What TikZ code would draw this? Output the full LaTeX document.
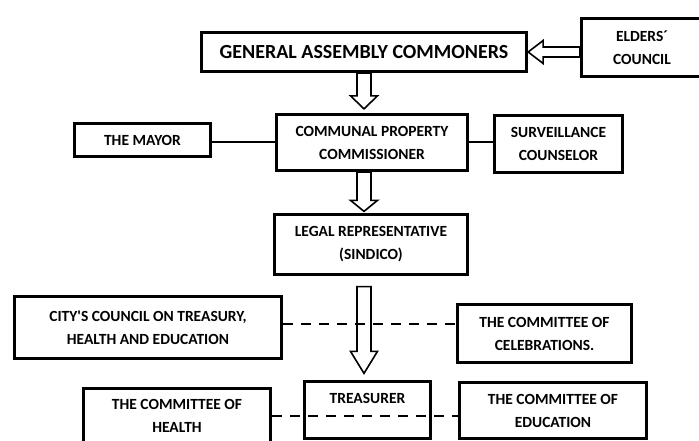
\documentclass[tikz,border=0pt]{standalone}
\usepackage{fontspec}
\setmainfont{Carlito}
\usetikzlibrary{calc}
\def\blockdown(#1)(#2)(#3){\draw[blockarrow] let \p1=(#1), \p2=(#2) in (\x2-7pt,\y1) -- (\x2+7pt,\y1) -- (\x2+7pt,\y2+#3pt) -- (\x2+13.5pt,\y2+#3pt) -- (\x2,\y2) -- (\x2-13.5pt,\y2+#3pt) -- (\x2-7pt,\y2+#3pt) -- cycle;}
\def\blockleft(#1)(#2)(#3){\draw[blockarrow] let \p1=(#1), \p2=(#2) in (\x1,\y2+5pt) -- (\x1,\y2-5pt) -- (\x2+#3pt,\y2-5pt) -- (\x2+#3pt,\y2-11.5pt) -- (\x2,\y2) -- (\x2+#3pt,\y2+11.5pt) -- (\x2+#3pt,\y2+5pt) -- cycle;}

\begin{document}
\begin{tikzpicture}[x=1pt,y=-1pt,
		box/.style={draw, line width=3.3pt, align=center, inner sep=0pt, font=\bfseries\fontsize{15.5}{23}\selectfont},
		blockarrow/.style={draw, fill=white, line width=1.6pt, line join=miter},
		link/.style={line width=2pt},
		dashlink/.style={line width=2.4pt, dash pattern=on 10pt off 8pt}]
			%%%%% START %%%%%
			
			\useasboundingbox (0,0) rectangle (699,441);
			\clip (0,0) rectangle (699,441);
			
			\node[box, minimum width=325pt, minimum height=39pt, font=\bfseries\fontsize{20}{24}\selectfont] (ga) at (364,52) {GENERAL ASSEMBLY COMMONERS};
			\node[box, minimum width=121pt, minimum height=58pt] (elders) at (642,47.5) {ELDERS´\\COUNCIL};
			
			\node[box, minimum width=136pt, minimum height=33pt] (mayor) at (142.5,140) {THE MAYOR};
			\node[box, minimum width=191pt, minimum height=56pt] (cpc) at (372,142.5) {COMMUNAL PROPERTY\\COMMISSIONER};
			\node[box, minimum width=128pt, minimum height=57pt] (surv) at (558.5,144) {SURVEILLANCE\\COUNSELOR};
			
			\node[box, minimum width=193pt, minimum height=60pt] (legal) at (371,244.5) {LEGAL REPRESENTATIVE\\(SINDICO)};
			
			\node[box, minimum width=267pt, minimum height=62pt] (city) at (148,327.5) {CITY\textquotesingle S COUNCIL ON TREASURY,\\HEALTH AND EDUCATION};
			\node[box, minimum width=174pt, minimum height=58pt] (celeb) at (544.5,333.5) {THE COMMITTEE OF\\CELEBRATIONS.};
			
			\node[box, minimum width=126pt, minimum height=57pt] (treas) at (367.5,410) {TREASURER\\\mbox{}};
			\node[box, minimum width=187pt, minimum height=55pt] (health) at (177,416) {THE COMMITTEE OF\\HEALTH};
			\node[box, minimum width=187pt, minimum height=56pt] (edu) at (553,410.5) {THE COMMITTEE OF\\EDUCATION};
			
			\draw[link] (cpc.west -| mayor.east) -- (cpc.west);
			\draw[link] (cpc.east) -- (cpc.east -| surv.west);
			
			\blockleft(elders.west)(ga.east)(15)
			\blockdown(ga.south)([yshift=4pt]cpc.north -| ga.south)(13)
			\blockdown(cpc.south -| ga.south)([yshift=1.5pt]legal.north -| ga.south)(11)
			\blockdown([yshift=-10.5pt]legal.south -| ga.south)([yshift=6.5pt]treas.north -| ga.south)(22)
			
			\draw[dashlink] ([yshift=3.5pt]city.east) -- ([yshift=3.5pt]city.east -| celeb.west);
			\draw[dashlink] (health.east) -- (health.east -| edu.west);
			
			%%%%% END %%%%%
		\end{tikzpicture}
\end{document}
